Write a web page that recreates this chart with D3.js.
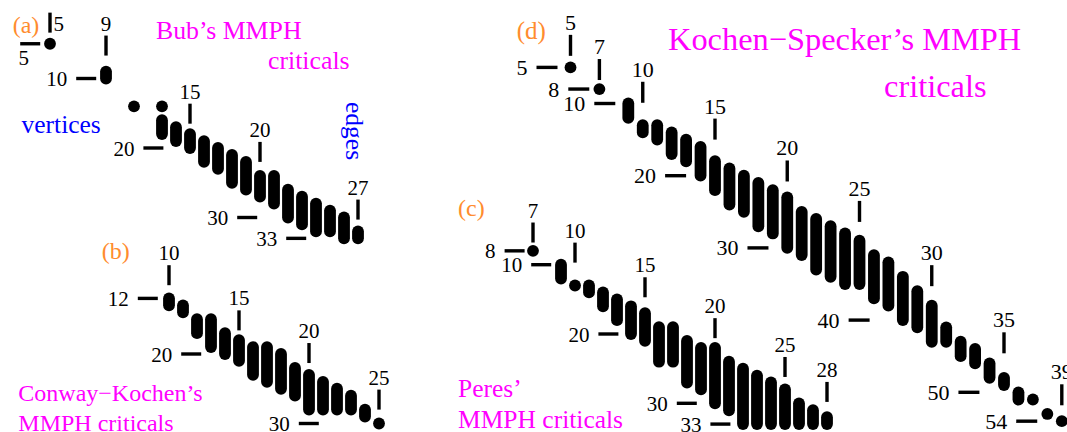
<!DOCTYPE html>
<html>
<head>
<meta charset="utf-8">
<script src="https://cdn.jsdelivr.net/npm/d3@7"></script>
<style>
  body { margin: 0; background: #fff; }
  svg { display: block; font-family: "Liberation Serif", "Times New Roman", serif; }
</style>
</head>
<body>
<div id="chart"></div>
<script>
// one entry per bar: edge count, lowest and highest vertex count

// (a) Bub's MMPH criticals
var bubEdges = [5, 9, 11, 13, 13, 14, 15, 16, 17, 18, 19, 20, 21, 22, 23, 24, 25, 26, 27];
var bubVmin  = [5, 9, 14, 14, 16, 17, 18, 19, 20, 21, 22, 24, 24, 26, 27, 28, 29, 30, 32];
var bubVmax  = [5, 10, 14, 14, 18, 19, 20, 22, 23, 25, 26, 27, 28, 30, 31, 32, 32, 33, 33];
var bubEdgeTicks = [5, 9, 15, 20, 27];
var bubEdgeTickEnd = [3.4, 6.7, 16.5, 22, 30.3];      // vertex level where tick stops
var bubVertexTicks = [5, 10, 20, 30, 33];
var bubVertexTickEnd = [4.3, 8.3, 13.1, 19.8, 23.3];  // edge level where tick stops

// (b) Conway-Kochen's MMPH criticals
var ckEdges = [10, 11, 12, 13, 14, 15, 16, 17, 18, 19, 20, 21, 22, 23, 24, 25];
var ckVmin  = [12, 13, 15, 15, 17, 18, 19, 19, 20, 22, 23, 24, 25, 26, 28, 30];
var ckVmax  = [13, 14, 17, 19, 20, 21, 23, 24, 25, 26, 28, 28, 28, 28, 29, 30];
var ckEdgeTicks = [10, 15, 20, 25];
var ckEdgeTickEnd = [10.1, 16.6, 21.3, 28];
var ckVertexTicks = [12, 20, 30];
var ckVertexTickEnd = [9.2, 12.3, 20.7];

// (c) Peres' MMPH criticals
var peresEdges = [7, 9, 10, 11, 12, 13, 14, 15, 16, 17, 18, 19, 20, 21, 22, 23, 24, 25, 26, 27, 28];
var peresVmin  = [8, 10, 13, 13, 14, 15, 16, 17, 19, 19, 21, 22, 22, 24, 25, 26, 27, 28, 30, 31, 32];
var peresVmax  = [8, 12, 13, 14, 16, 18, 20, 21, 24, 24, 27, 28, 30, 31, 33, 33, 33, 33, 33, 33, 33];
var peresEdgeTicks = [7, 10, 15, 20, 25, 28];
var peresEdgeTickEnd = [6.8, 9.7, 14.7, 20.6, 26.2, 29.8];
var peresVertexTicks = [8, 10, 20, 30, 33];
var peresVertexTickEnd = [6.4, 8.3, 13.1, 18.7, 21.1];

// (d) Kochen-Specker's MMPH criticals
var ksEdges = [5, 7, 9, 10, 11, 12, 13, 14, 15, 16, 17, 18, 19, 20, 21, 22, 23,
               24, 25, 26, 27, 28, 29, 30, 31, 32, 33, 34, 35, 36, 37, 38, 39];
var ksVmin  = [5, 8, 10, 13, 13, 14, 15, 16, 18, 19, 20, 21, 22, 23, 25, 26, 27,
               28, 29, 31, 32, 34, 36, 38, 41, 43, 44, 46, 48, 50, 51, 53, 54];
var ksVmax  = [5, 8, 12, 14, 15, 17, 18, 20, 22, 24, 25, 27, 28, 30, 31, 33, 34,
               35, 35, 37, 38, 40, 41, 43, 43, 45, 46, 48, 49, 51, 51, 53, 54];
var ksEdgeTicks = [5, 7, 10, 15, 20, 25, 30, 35, 39];
var ksEdgeTickEnd = [3.4, 6.75, 9.9, 15, 20.8, 26.4, 35.3, 44.6, 51.8];
var ksVertexTicks = [5, 8, 10, 20, 30, 40, 50, 54];
var ksVertexTickEnd = [4.1, 6.3, 8.1, 13, 18.7, 25.7, 33.3, 37.3];

var ORANGE = '#ff8c2e', MAGENTA = '#ff00ff', BLUE = '#0000ff';

var panels = [
  { edges: bubEdges, vmin: bubVmin, vmax: bubVmax,
    eTicks: bubEdgeTicks, eTickEnd: bubEdgeTickEnd, vTicks: bubVertexTicks, vTickEnd: bubVertexTickEnd,
    xr: [190, 260], yr: [148, 217.5], w: 11.8, fs: 21, tl: 20,
    edgeLabelRight: [5], vertexLabelBelow: [5],
    texts: [
      { t: '(a)', x: 12.7, y: 32.5, c: ORANGE, fs: 24 },
      { t: 'Bub\u2019s MMPH', x: 156, y: 38.5, c: MAGENTA, fs: 25.8 },
      { t: 'criticals', x: 268, y: 68.5, c: MAGENTA, fs: 25.8 },
      { t: 'vertices', x: 21.5, y: 133, c: BLUE, fs: 25.5 },
      { t: 'edges', x: 346, y: 102, c: BLUE, fs: 25.5, rot: 90 }
    ] },
  { edges: ckEdges, vmin: ckVmin, vmax: ckVmax,
    eTicks: ckEdgeTicks, eTickEnd: ckEdgeTickEnd, vTicks: ckVertexTicks, vTickEnd: ckVertexTickEnd,
    xr: [239, 309], yr: [354, 423.5], w: 11.8, fs: 21, tl: 20,
    edgeLabelRight: [], vertexLabelBelow: [],
    texts: [
      { t: '(b)', x: 101.7, y: 259, c: ORANGE, fs: 24 },
      { t: 'Conway\u2212Kochen\u2019s', x: 18.3, y: 401, c: MAGENTA, fs: 24 },
      { t: 'MMPH criticals', x: 18.3, y: 431, c: MAGENTA, fs: 24 }
    ] },
  { edges: peresEdges, vmin: peresVmin, vmax: peresVmax,
    eTicks: peresEdgeTicks, eTickEnd: peresEdgeTickEnd, vTicks: peresVertexTicks, vTickEnd: peresVertexTickEnd,
    xr: [645, 715], yr: [334, 403.3], w: 11.8, fs: 21, tl: 20,
    edgeLabelRight: [], vertexLabelBelow: [],
    texts: [
      { t: '(c)', x: 458, y: 216, c: ORANGE, fs: 24 },
      { t: 'Peres\u2019', x: 458, y: 397, c: MAGENTA, fs: 25.5 },
      { t: 'MMPH criticals', x: 458, y: 428, c: MAGENTA, fs: 25.5 }
    ] },
  { edges: ksEdges, vmin: ksVmin, vmax: ksVmax,
    eTicks: ksEdgeTicks, eTickEnd: ksEdgeTickEnd, vTicks: ksVertexTicks, vTickEnd: ksVertexTickEnd,
    xr: [715, 787.25], yr: [175.7, 247.9], w: 11.8, fs: 22, tl: 21,
    edgeLabelRight: [], vertexLabelBelow: [],
    texts: [
      { t: '(d)', x: 516.7, y: 39, c: ORANGE, fs: 25 },
      { t: 'Kochen\u2212Specker\u2019s MMPH', x: 668, y: 49.5, c: MAGENTA, fs: 32.4 },
      { t: 'criticals', x: 884, y: 97, c: MAGENTA, fs: 32.4 }
    ] }
];

var svg = d3.select('#chart')
  .append('svg')
  .attr('width', 1067)
  .attr('height', 432);

svg.append('rect').attr('width', 1067).attr('height', 432).attr('fill', '#fff');

function drawPanel(p) {
  var x = d3.scaleLinear().domain([15, 20]).range(p.xr);
  var y = d3.scaleLinear().domain([20, 30]).range(p.yr);
  var g = svg.append('g');

  var bars = p.edges.map(function (e, i) {
    return { e: e, lo: p.vmin[i], hi: p.vmax[i] };
  });

  g.selectAll('rect.bar')
    .data(bars)
    .enter()
    .append('rect')
    .attr('class', 'bar')
    .attr('x', function (d) { return x(d.e) - p.w / 2; })
    .attr('y', function (d) { return y(d.lo) - p.w / 2; })
    .attr('width', p.w)
    .attr('height', function (d) { return y(d.hi) - y(d.lo) + p.w; })
    .attr('rx', p.w / 2)
    .attr('fill', '#000');

  // edge ticks: vertical strokes above the columns
  var eT = p.eTicks.map(function (e, i) { return { e: e, end: p.eTickEnd[i] }; });
  g.selectAll('line.et')
    .data(eT)
    .enter()
    .append('line')
    .attr('x1', function (d) { return x(d.e); })
    .attr('x2', function (d) { return x(d.e); })
    .attr('y1', function (d) { return y(d.end) - p.tl; })
    .attr('y2', function (d) { return y(d.end); })
    .attr('stroke', '#000')
    .attr('stroke-width', 3.4);

  g.selectAll('text.et')
    .data(eT)
    .enter()
    .append('text')
    .attr('x', function (d) { return p.edgeLabelRight.indexOf(d.e) >= 0 ? x(d.e) + 3.5 : x(d.e); })
    .attr('y', function (d) { return p.edgeLabelRight.indexOf(d.e) >= 0 ? y(d.end) - 1.3 : y(d.end) - p.tl - 5; })
    .attr('text-anchor', function (d) { return p.edgeLabelRight.indexOf(d.e) >= 0 ? 'start' : 'middle'; })
    .attr('font-size', p.fs)
    .attr('fill', '#000')
    .text(function (d) { return d.e; });

  // vertex ticks: horizontal strokes left of the columns
  var vT = p.vTicks.map(function (v, i) { return { v: v, end: p.vTickEnd[i] }; });
  g.selectAll('line.vt')
    .data(vT)
    .enter()
    .append('line')
    .attr('x1', function (d) { return x(d.end) - p.tl; })
    .attr('x2', function (d) { return x(d.end); })
    .attr('y1', function (d) { return y(d.v); })
    .attr('y2', function (d) { return y(d.v); })
    .attr('stroke', '#000')
    .attr('stroke-width', 3.4);

  g.selectAll('text.vt')
    .data(vT)
    .enter()
    .append('text')
    .attr('x', function (d) { return p.vertexLabelBelow.indexOf(d.v) >= 0 ? x(d.end) - p.tl + 3.5 : x(d.end) - p.tl - 9; })
    .attr('y', function (d) { return p.vertexLabelBelow.indexOf(d.v) >= 0 ? y(d.v) + 21.5 : y(d.v) + 7.5; })
    .attr('text-anchor', function (d) { return p.vertexLabelBelow.indexOf(d.v) >= 0 ? 'middle' : 'end'; })
    .attr('font-size', p.fs)
    .attr('fill', '#000')
    .text(function (d) { return d.v; });

  // captions
  g.selectAll('text.cap')
    .data(p.texts)
    .enter()
    .append('text')
    .attr('transform', function (d) {
      return 'translate(' + d.x + ',' + d.y + ')' + (d.rot ? ' rotate(' + d.rot + ')' : '');
    })
    .attr('font-size', function (d) { return d.fs; })
    .attr('fill', function (d) { return d.c; })
    .text(function (d) { return d.t; });
}

panels.forEach(drawPanel);
</script>
</body>
</html>
